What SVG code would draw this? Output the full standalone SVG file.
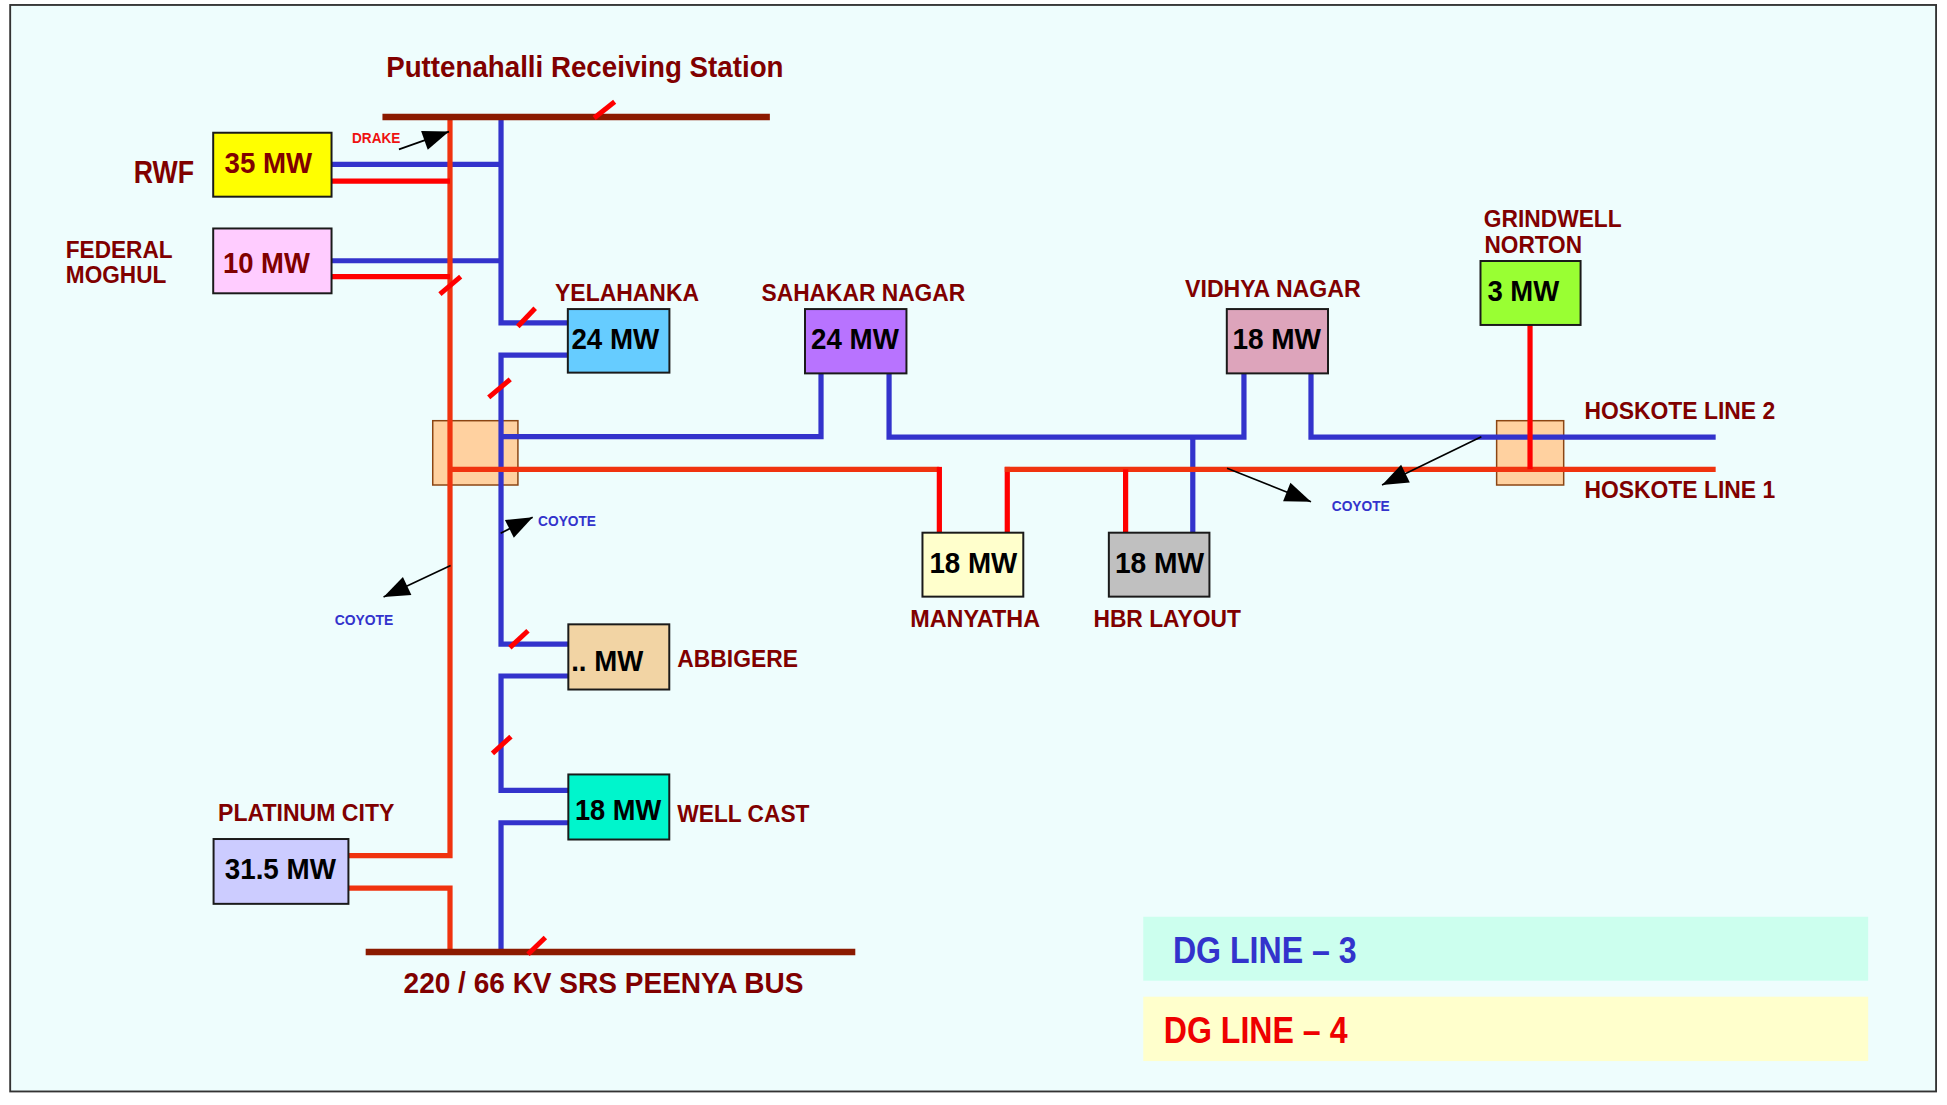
<svg xmlns="http://www.w3.org/2000/svg" width="1947" height="1105" viewBox="0 0 1947 1105">
<defs>
<style>
text{font-family:"Liberation Sans Narrow","Liberation Sans",Arial,sans-serif;font-weight:bold}
.lbl{fill:#800000;font-size:20px}
.val{fill:#000;font-size:24px}
.valr{fill:#800000;font-size:24px}
.coy{fill:#3333CC;font-size:12.5px}
.box{stroke:#1a1a1a;stroke-width:1.6}
.jn{fill:#FFD1A0;stroke:#8B4513;stroke-width:1.2}
.blue{fill:none;stroke:#3333CC;stroke-width:4.2}
.red{fill:none;stroke:#F0330F;stroke-width:4.2}
.pred{fill:none;stroke:#FF0000;stroke-width:4.2}
.bus{fill:none;stroke:#8B1A00;stroke-width:5.2}
.slash{stroke:#FF0000;stroke-width:4}
.arr{stroke:#000;stroke-width:1.3;marker-end:url(#ah)}
</style>
<marker id="ah" markerUnits="userSpaceOnUse" markerWidth="24" markerHeight="18" refX="21" refY="8" orient="auto" overflow="visible">
<path d="M0,0 L21,8 L0,16 z" fill="#000"/>
</marker>
</defs>
<rect x="0" y="0" width="1947" height="1105" fill="#ffffff"/>
<g transform="scale(1.24171)">
<rect x="8.2" y="4" width="1551" height="875" fill="#EEFDFD" stroke="#333" stroke-width="1.5"/>

<g id="legend">
<rect x="920.7" y="738.3" width="583.8" height="51.5" fill="#CCFFEE"/>
<text x="944.6" y="775.3" font-size="29" fill="#3333CC" textLength="148" lengthAdjust="spacingAndGlyphs">DG LINE – 3</text>
<rect x="920.7" y="802.7" width="583.8" height="51.8" fill="#FFFFCC"/>
<text x="937.2" y="840" font-size="29" fill="#EE0000" textLength="148" lengthAdjust="spacingAndGlyphs">DG LINE – 4</text>
</g>

<g id="junction-left"><rect class="jn" x="348.5" y="338.8" width="68.6" height="51.8"/></g>
<g id="junction-hoskote"><rect class="jn" x="1205.3" y="338.8" width="54" height="51.8"/></g>

<g id="connectors">
<path class="blue" d="M267,132.3 H403.5"/>
<path class="blue" d="M267,210 H403.5"/>
<path class="blue" d="M403.5,94 V260 H457.5"/>
<path class="blue" d="M457.5,286 H403.5 V518.7 H457.7"/>
<path class="blue" d="M403.5,351.7 H661.2 V300.5"/>
<path class="blue" d="M716,300.5 V352 H1001.8 V300.5"/>
<path class="blue" d="M1055.8,300.5 V352 H1381.7"/>
<path class="blue" d="M960.6,352 V429"/>
<path class="blue" d="M457.7,544.4 H403.5 V636.5 H457.7"/>
<path class="blue" d="M457.7,662.6 H403.5 V766.7"/>
<path class="red" d="M362.4,94 V689 H280.6"/>
<path class="red" d="M280.6,715.3 H362.4 V766.7"/>
<path class="pred" d="M267,145.8 H362.4"/>
<path class="pred" d="M267,222.8 H362.4"/>
<path class="red" d="M362.4,378 H756.5"/>
<path class="pred" d="M756.5,376 V429"/>
<path class="pred" d="M811.2,429 V376"/>
<path class="red" d="M809.2,378 H1381.7"/>
<path class="pred" d="M906.5,378 V429"/>
<path class="pred" d="M1232.2,261.7 V378"/>
<path class="bus" d="M308,94.2 H620"/>
<path class="bus" d="M294.5,766.7 H688.8"/>
<line class="slash" x1="478.5" y1="95" x2="495" y2="82"/>
<line class="slash" x1="354.3" y1="236.8" x2="371" y2="222.8"/>
<line class="slash" x1="417" y1="263" x2="431" y2="248.3"/>
<line class="slash" x1="393.6" y1="320" x2="410.9" y2="305.5"/>
<line class="slash" x1="410.6" y1="521.5" x2="425.2" y2="508"/>
<line class="slash" x1="396.6" y1="606.7" x2="411.5" y2="593.2"/>
<line class="slash" x1="425.2" y1="768.5" x2="439.2" y2="755"/>
<line class="arr" x1="321.3" y1="120.3" x2="361.6" y2="106"/>
<line class="arr" x1="403.2" y1="429.4" x2="429" y2="416.5"/>
<line class="arr" x1="362.9" y1="455.4" x2="308.9" y2="480.8"/>
<line class="arr" x1="988.2" y1="377.2" x2="1055.8" y2="404"/>
<line class="arr" x1="1193" y1="351.7" x2="1113" y2="390.6"/>
</g>

<g id="labels">
<text class="lbl" x="311" y="62" style="font-size:23.5px" textLength="320" lengthAdjust="spacingAndGlyphs">Puttenahalli Receiving Station</text>
<text class="lbl" x="325" y="799.6" style="font-size:24.5px" textLength="322" lengthAdjust="spacingAndGlyphs">220 / 66 KV SRS PEENYA BUS</text>
<text x="283.5" y="115" fill="#EE1111" font-size="12.5" textLength="39" lengthAdjust="spacingAndGlyphs">DRAKE</text>
<text class="coy" x="1072.5" y="411.3" textLength="46.7" lengthAdjust="spacingAndGlyphs">COYOTE</text>
<text class="coy" x="433.3" y="424" textLength="46.7" lengthAdjust="spacingAndGlyphs">COYOTE</text>
<text class="coy" x="269.5" y="503" textLength="47.2" lengthAdjust="spacingAndGlyphs">COYOTE</text>
<text class="lbl" x="1276" y="337.5" textLength="153.6" lengthAdjust="spacingAndGlyphs">HOSKOTE LINE 2</text>
<text class="lbl" x="1276" y="401.3" textLength="153.6" lengthAdjust="spacingAndGlyphs">HOSKOTE LINE 1</text>
</g>

<g id="node-rwf">
<rect class="box" x="171.7" y="106.9" width="95.3" height="51.5" fill="#FFFF00"/>
<text class="valr" x="180.8" y="139.5" textLength="70.6" lengthAdjust="spacingAndGlyphs">35 MW</text>
<text class="lbl" x="107.7" y="147.1" style="font-size:24.7px" textLength="48.5" lengthAdjust="spacingAndGlyphs">RWF</text>
</g>
<g id="node-federal-moghul">
<rect class="box" x="171.7" y="184" width="95.3" height="52.2" fill="#FFCCFF"/>
<text class="valr" x="179.5" y="220" textLength="70" lengthAdjust="spacingAndGlyphs">10 MW</text>
<text class="lbl" x="53" y="208" textLength="86" lengthAdjust="spacingAndGlyphs">FEDERAL</text>
<text class="lbl" x="53" y="228" textLength="81" lengthAdjust="spacingAndGlyphs">MOGHUL</text>
</g>
<g id="node-yelahanka">
<rect class="box" x="457.3" y="248.9" width="81.8" height="51.2" fill="#66CCFF"/>
<text class="val" x="460.2" y="281" textLength="70.7" lengthAdjust="spacingAndGlyphs">24 MW</text>
<text class="lbl" x="447" y="242.2" textLength="116" lengthAdjust="spacingAndGlyphs">YELAHANKA</text>
</g>
<g id="node-sahakar-nagar">
<rect class="box" x="648.3" y="248.9" width="81.7" height="51.8" fill="#B873FF"/>
<text class="val" x="653.2" y="281" textLength="70.7" lengthAdjust="spacingAndGlyphs">24 MW</text>
<text class="lbl" x="613.3" y="242.4" textLength="164" lengthAdjust="spacingAndGlyphs">SAHAKAR NAGAR</text>
</g>
<g id="node-vidhya-nagar">
<rect class="box" x="988" y="248.9" width="81.5" height="51.8" fill="#DDA4BB"/>
<text class="val" x="992.5" y="281" textLength="71.4" lengthAdjust="spacingAndGlyphs">18 MW</text>
<text class="lbl" x="954.4" y="239" textLength="141.4" lengthAdjust="spacingAndGlyphs">VIDHYA NAGAR</text>
</g>
<g id="node-grindwell-norton">
<rect class="box" x="1192.3" y="210.2" width="80.6" height="51.5" fill="#99FF33"/>
<text class="val" x="1197.9" y="242.4" textLength="57.8" lengthAdjust="spacingAndGlyphs">3 MW</text>
<text class="lbl" x="1195" y="182.5" textLength="111" lengthAdjust="spacingAndGlyphs">GRINDWELL</text>
<text class="lbl" x="1195.5" y="203.5" textLength="78.6" lengthAdjust="spacingAndGlyphs">NORTON</text>
</g>
<g id="node-manyatha">
<rect class="box" x="742.9" y="429" width="81.2" height="51.5" fill="#FFFFCC"/>
<text class="val" x="748.5" y="461.7" textLength="70.7" lengthAdjust="spacingAndGlyphs">18 MW</text>
<text class="lbl" x="733" y="504.7" textLength="104.6" lengthAdjust="spacingAndGlyphs">MANYATHA</text>
</g>
<g id="node-hbr-layout">
<rect class="box" x="893" y="429" width="81" height="51.5" fill="#C0C0C0"/>
<text class="val" x="897.9" y="461.7" textLength="71.9" lengthAdjust="spacingAndGlyphs">18 MW</text>
<text class="lbl" x="880.6" y="504.7" textLength="118.7" lengthAdjust="spacingAndGlyphs">HBR LAYOUT</text>
</g>
<g id="node-abbigere">
<rect class="box" x="457.7" y="502.8" width="81.3" height="52.5" fill="#F2D4A4"/>
<text class="val" x="460" y="540" textLength="58" lengthAdjust="spacingAndGlyphs">.. MW</text>
<text class="lbl" x="545.5" y="537" textLength="97.1" lengthAdjust="spacingAndGlyphs">ABBIGERE</text>
</g>
<g id="node-well-cast">
<rect class="box" x="457.7" y="623.7" width="81.3" height="52.4" fill="#00F5CC"/>
<text class="val" x="463" y="660" textLength="69.5" lengthAdjust="spacingAndGlyphs">18 MW</text>
<text class="lbl" x="545.5" y="661.9" textLength="106.4" lengthAdjust="spacingAndGlyphs">WELL CAST</text>
</g>
<g id="node-platinum-city">
<rect class="box" x="172" y="675.7" width="108.6" height="52.2" fill="#CCCCFF"/>
<text class="val" x="181" y="708.2" textLength="89.5" lengthAdjust="spacingAndGlyphs">31.5 MW</text>
<text class="lbl" x="175.6" y="661.2" textLength="142" lengthAdjust="spacingAndGlyphs">PLATINUM CITY</text>
</g>
</g>
</svg>
